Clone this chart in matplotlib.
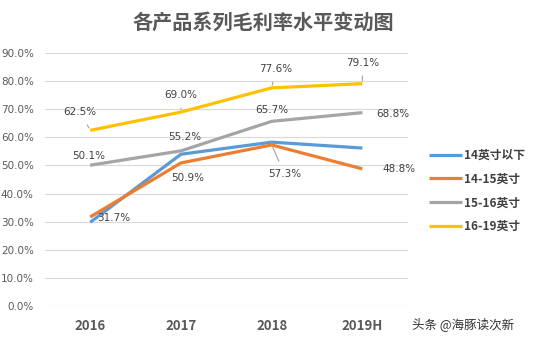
import matplotlib
matplotlib.use("Agg")
import matplotlib.pyplot as plt
from matplotlib.ticker import FuncFormatter

plt.rcParams['font.family'] = ['Noto Sans CJK SC', 'DejaVu Sans']

# Data
years = ["2016", "2017", "2018", "2019H"]
series_names = ["14英寸以下", "14-15英寸", "15-16英寸", "16-19英寸"]
below14 = [29.8, 54.0, 58.3, 56.2]
size14_15 = [31.7, 50.9, 57.3, 48.8]
size15_16 = [50.1, 55.2, 65.7, 68.8]
size16_19 = [62.5, 69.0, 77.6, 79.1]
series_values = [below14, size14_15, size15_16, size16_19]
show_labels = [False, True, True, True]

colors = ["#5B9BD5", "#ED7D31", "#A5A5A5", "#FFC000"]

# label offsets in pixels (dx, dy) and whether a leader line is drawn
label_offsets = {
    1: [(23, -1, False), (7, -15, False), (13, -29, True), (37, 0, False)],
    2: [(-2, 9, False), (4, 14, False), (0, 11, False), (30, -1, False)],
    3: [(-10, 18, True), (0, 17, True), (4, 19, True), (0, 21, True)],
}

fig = plt.figure(figsize=(5.54, 3.42), dpi=100)
ax = fig.add_axes([0.081, 0.105, 0.655, 0.74])

x = list(range(len(years)))
for i, (name, vals) in enumerate(zip(series_names, series_values)):
    ax.plot(x, vals, color=colors[i], lw=2.3, label=name, solid_capstyle='butt', zorder=3)

for i, vals in enumerate(series_values):
    if not show_labels[i]:
        continue
    for j, v in enumerate(vals):
        dx, dy, lead = label_offsets[i][j]
        kw = {}
        if lead:
            kw['arrowprops'] = dict(arrowstyle='-', color='#A0A0A0', lw=0.8,
                                    shrinkA=4, shrinkB=2)
        ax.annotate(f"{v:.1f}%", (j, v), xytext=(dx, dy), textcoords='offset pixels',
                    ha='center', va='center', fontsize=7.5, color='#404040',
                    family=['DejaVu Sans'], zorder=5, **kw)

ax.set_xlim(-0.5, 3.5)
ax.set_ylim(0, 90)
ax.set_yticks(range(0, 91, 10))
ax.yaxis.set_major_formatter(FuncFormatter(lambda v, p: f"{v:.1f}%"))
ax.set_xticks(x)
ax.set_xticklabels(years, fontsize=9.5, fontweight='bold', color='#595959')
for t in ax.get_yticklabels():
    t.set_fontsize(7.5)
    t.set_color('#595959')
    t.set_family(['DejaVu Sans'])
ax.tick_params(length=0)
ax.tick_params(axis='x', pad=9)
ax.tick_params(axis='y', pad=8)
ax.grid(axis='y', color='#D9D9D9', lw=0.8)
ax.set_axisbelow(True)
for s in ax.spines.values():
    s.set_visible(False)

fig.text(0.475, 0.935, "各产品系列毛利率水平变动图", ha='center', va='center',
         fontsize=14.5, fontweight='bold', color='#595959')

leg = ax.legend(loc='center left', bbox_to_anchor=(1.03, 0.455), frameon=False,
                handlelength=2.8, handletextpad=0.15, labelspacing=0.9,
                prop={'size': 8.5, 'weight': 'bold'})
for t in leg.get_texts():
    t.set_color('#404040')

fig.text(0.835, 0.052, "头条 @海豚读次新", ha='center', va='center',
         fontsize=9, color='#333333')

fig.savefig("out.png", dpi=100)
